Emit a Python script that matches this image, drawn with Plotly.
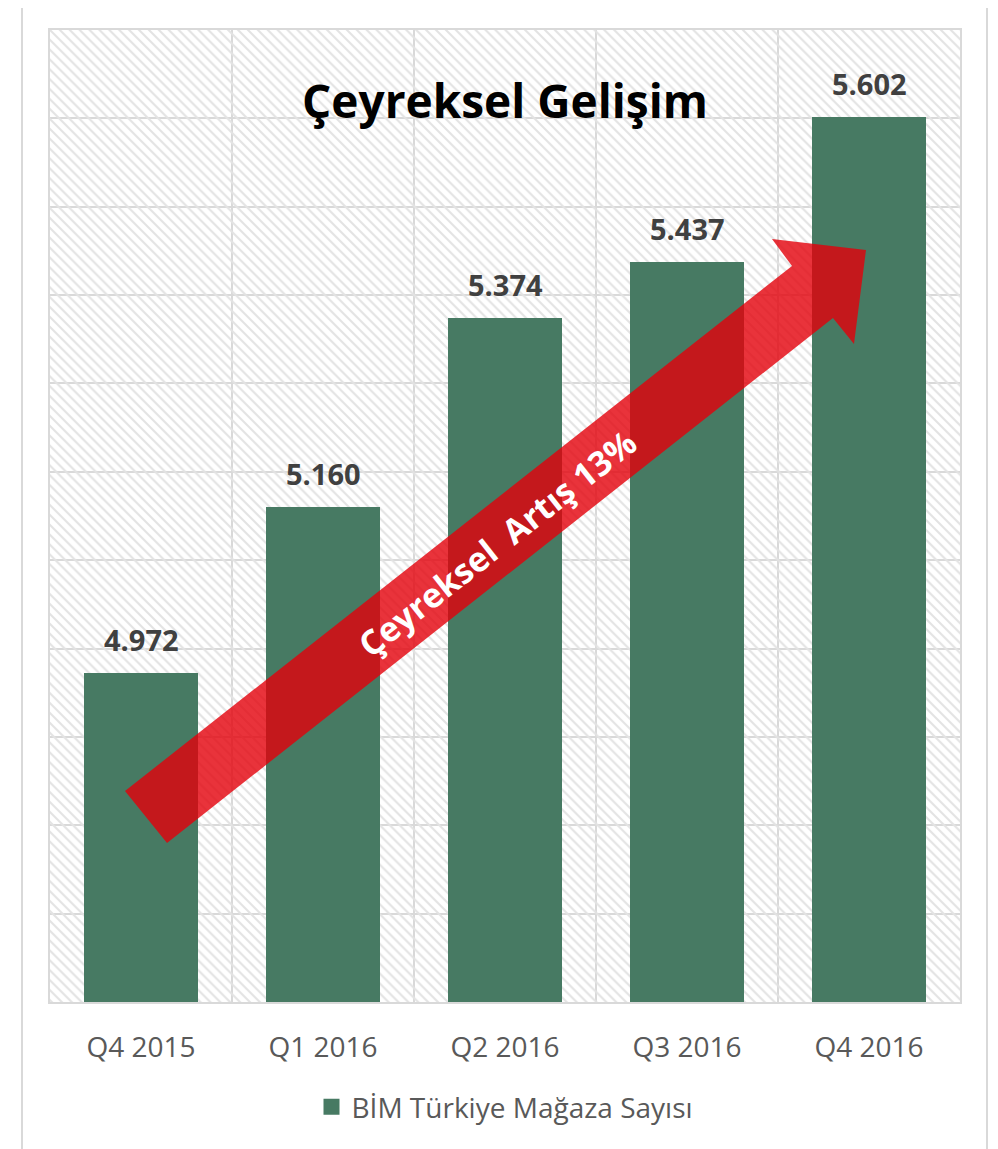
import plotly.graph_objects as go

# data
quarters = ["Q4 2015", "Q1 2016", "Q2 2016", "Q3 2016", "Q4 2016"]
stores = [4972, 5160, 5374, 5437, 5602]
series_name = "BİM Türkiye Mağaza Sayısı"
title_text = "Çeyreksel Gelişim"
arrow_text = "Çeyreksel  Artış 13%"
y_min, y_max = 4600, 5700

W, H = 998, 1149
# page shows the figure 8px in from the corner, so margins are trimmed by that
L, T = 42, 22
pw, ph = 910, 972
R, B = W - L - pw, H - T - ph
PL, PB = 50, 1002  # plot left / bottom in page pixels


# page pixel position -> paper coords (for decorations only)
def px(x, y):
    return (x - PL) / pw, (PB - y) / ph


def path(points):
    pts = [px(x, y) for x, y in points]
    return "M " + " L ".join(f"{a:.4f},{b:.4f}" for a, b in pts) + " Z"


fig = go.Figure()

# hatched plot background
fig.add_trace(go.Bar(
    x=quarters, y=[y_max - y_min] * len(quarters), base=y_min, width=1,
    marker=dict(color="#E3E3E3", line_width=0,
                pattern=dict(shape="\\", size=7, solidity=0.3, fillmode="replace")),
    showlegend=False, hoverinfo="skip"))

fig.add_trace(go.Bar(
    x=quarters, y=stores, name=series_name, width=0.626, showlegend=False,
    marker=dict(color="#477A63", line_width=0)))

# legend entry with a bigger square
fig.add_trace(go.Scatter(
    x=[None], y=[None], mode="markers", name=series_name,
    marker=dict(symbol="square", size=17, color="#477A63")))

# value labels
for q, v in zip(quarters, stores):
    fig.add_annotation(x=q, y=v, text=f"<b>{v:,}</b>".replace(",", "."),
                       showarrow=False, yanchor="bottom", yshift=12,
                       font=dict(family="Open Sans", size=29, color="#404040"))

# title
tx, ty = px(505, 100)
fig.add_annotation(xref="paper", yref="paper", x=tx, y=ty, xanchor="center", yanchor="middle",
                   text=f"<b>{title_text}</b>", showarrow=False,
                   font=dict(family="Open Sans", size=46, color="#000000"))

# red arrow
arrow = [(125, 791), (792, 266), (772, 239), (866, 250), (854, 344), (833, 318), (167, 843)]
fig.add_shape(type="path", xref="paper", yref="paper", path=path(arrow),
              fillcolor="rgb(228,0,10)", opacity=0.8, line_width=0, layer="above")
ax_, ay_ = px(497, 543)
fig.add_annotation(xref="paper", yref="paper", x=ax_, y=ay_, xanchor="center", yanchor="middle",
                   text=f"<b>{arrow_text}</b>", showarrow=False, textangle=-38.2,
                   font=dict(family="Open Sans", size=34, color="white"))

# outer frame
x0, y0 = px(22, 1)
x1, y1 = px(987, 1160)
fig.add_shape(type="rect", xref="paper", yref="paper", x0=x0, y0=y0, x1=x1, y1=y1,
              line=dict(color="#D9D9D9", width=2), fillcolor="rgba(0,0,0,0)", layer="below")

fig.update_layout(
    width=W, height=H,
    margin=dict(l=L, r=R, t=T, b=B),
    paper_bgcolor="white", plot_bgcolor="white",
    barmode="overlay", bargap=0,
    font=dict(family="Open Sans", color="#595959"),
    legend=dict(orientation="h", x=0.5, xanchor="center", y=px(0, 1107)[1], yanchor="middle",
                font=dict(size=28, color="#595959"), itemwidth=30),
    xaxis=dict(tickson="boundaries", showgrid=True, gridcolor="#D9D9D9", gridwidth=1.5,
               showline=True, linecolor="#D9D9D9", linewidth=2, mirror=True,
               ticks="", tickfont=dict(size=28, color="#595959"), ticklabelstandoff=19,
               range=[-0.5, len(quarters) - 0.5]),
    yaxis=dict(range=[y_min, y_max], dtick=100, showgrid=True, gridcolor="#D9D9D9",
               gridwidth=1.5, showticklabels=False, zeroline=False,
               showline=True, linecolor="#D9D9D9", linewidth=1.5, mirror=True),
)

fig.write_html("out.html")
